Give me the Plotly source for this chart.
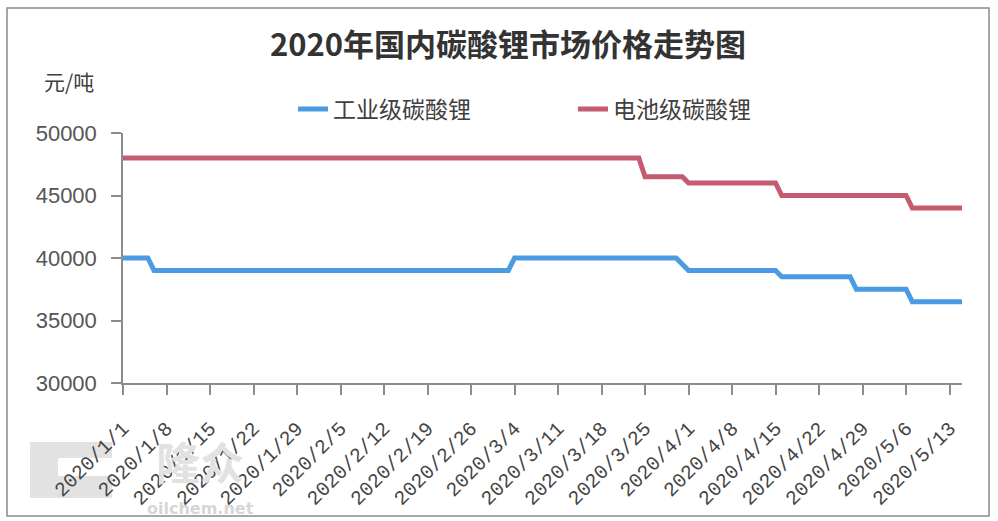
import plotly.graph_objects as go

# Price change points (yuan/ton); consecutive entries are joined by straight segments
industrial_dates = ["2020-01-01", "2020-01-05", "2020-01-06", "2020-03-03", "2020-03-04",
                    "2020-03-30", "2020-03-31", "2020-04-01", "2020-04-15", "2020-04-16",
                    "2020-04-27", "2020-04-28", "2020-05-06", "2020-05-07", "2020-05-15"]
industrial_prices = [40000, 40000, 39000, 39000, 40000,
                     40000, 39500, 39000, 39000, 38500,
                     38500, 37500, 37500, 36500, 36500]

battery_dates = ["2020-01-01", "2020-03-24", "2020-03-25", "2020-03-31", "2020-04-01",
                 "2020-04-15", "2020-04-16", "2020-05-06", "2020-05-07", "2020-05-15"]
battery_prices = [48000, 48000, 46500, 46500, 46000,
                  46000, 45000, 45000, 44000, 44000]

series_names = ["工业级碳酸锂", "电池级碳酸锂"]
series_colors = ["#4a9be3", "#c55b6f"]

tick_dates = ["2020-01-01", "2020-01-08", "2020-01-15", "2020-01-22", "2020-01-29",
              "2020-02-05", "2020-02-12", "2020-02-19", "2020-02-26", "2020-03-04",
              "2020-03-11", "2020-03-18", "2020-03-25", "2020-04-01", "2020-04-08",
              "2020-04-15", "2020-04-22", "2020-04-29", "2020-05-06", "2020-05-13"]
tick_labels = ["2020/1/1", "2020/1/8", "2020/1/15", "2020/1/22", "2020/1/29",
               "2020/2/5", "2020/2/12", "2020/2/19", "2020/2/26", "2020/3/4",
               "2020/3/11", "2020/3/18", "2020/3/25", "2020/4/1", "2020/4/8",
               "2020/4/15", "2020/4/22", "2020/4/29", "2020/5/6", "2020/5/13"]

title_text = "2020年国内碳酸锂市场价格走势图"
unit_text = "元/吨"

# plot-area geometry in pixels
W, H = 998, 521
ML, MR, MT, MB = 123, 36, 133, 138
PW, PH = W - ML - MR, H - MT - MB


def px_x(x):
    return (x - ML) / PW


def px_y(y):
    return (H - MB - y) / PH


fig = go.Figure()
for name, color, xs, ys in [
    (series_names[0], series_colors[0], industrial_dates, industrial_prices),
    (series_names[1], series_colors[1], battery_dates, battery_prices),
]:
    fig.add_trace(go.Scatter(x=xs, y=ys, mode="lines", name=name,
                             line=dict(color=color, width=5)))

axis_gray = "#8c8c8c"
fig.update_xaxes(
    type="date", range=["2020-01-01", "2020-05-15"],
    tickmode="array", tickvals=tick_dates, ticktext=tick_labels,
    tickangle=-45, ticks="outside", ticklen=10, tickcolor=axis_gray, tickwidth=1.5,
    showline=True, linecolor=axis_gray, linewidth=1.5, showgrid=False, zeroline=False,
    tickfont=dict(family="Liberation Mono", size=20, color="#454545"),
    ticklabelstandoff=14,
)
fig.update_yaxes(
    range=[30000, 50000], dtick=5000, tick0=30000, tickformat="d",
    ticks="outside", ticklen=10, tickcolor=axis_gray, tickwidth=1.5,
    showline=True, linecolor=axis_gray, linewidth=1.5, showgrid=False, zeroline=False,
    tickfont=dict(family="Liberation Sans", size=22, color="#555555"),
    ticklabelstandoff=10,
)

# faint site logo mark in the lower-left corner (drawn beneath the axes)
logo_path = ("M {a},{t} L {b},{t} L {b},{m1} L {c},{m1} L {c},{m2} L {b},{m2} "
             "L {b},{bt} L {a},{bt} Z").format(
    a=px_x(30), b=px_x(112), c=px_x(58),
    t=px_y(442), m1=px_y(458), m2=px_y(476), bt=px_y(498))

fig.update_layout(
    width=W, height=H, autosize=False,
    margin=dict(l=ML, r=MR, t=MT, b=MB),
    paper_bgcolor="white", plot_bgcolor="white",
    title=dict(text=title_text, xref="container", x=508 / W, xanchor="center",
               yref="container", y=1 - 45 / H, yanchor="middle",
               font=dict(family="Noto Sans CJK SC", size=31, color="#333333", weight="bold")),
    legend=dict(orientation="h", xref="paper", x=px_x(573), xanchor="center",
                yref="paper", y=px_y(109), yanchor="middle",
                font=dict(family="Noto Sans CJK SC", size=23, color="#404040"),
                entrywidth=235, bgcolor="rgba(0,0,0,0)"),
    showlegend=True,
    annotations=[
        dict(text=unit_text, xref="paper", yref="paper", x=px_x(69), y=px_y(81),
             xanchor="center", yanchor="middle", showarrow=False,
             font=dict(family="Noto Sans CJK SC", size=21, color="#404040")),
        dict(text="隆众", xref="paper", yref="paper", x=px_x(200), y=px_y(461),
             xanchor="center", yanchor="middle", showarrow=False,
             font=dict(family="Noto Sans CJK SC", size=44, color="#e2e2e2", weight="bold")),
        dict(text="oilchem.net", xref="paper", yref="paper", x=px_x(200), y=px_y(508),
             xanchor="center", yanchor="middle", showarrow=False,
             font=dict(family="DejaVu Sans", size=16, color="#d6d6d6", weight="bold")),
    ],
    shapes=[
        dict(type="path", xref="paper", yref="paper", path=logo_path,
             fillcolor="#e2e2e2", line=dict(width=0), layer="below"),
        dict(type="rect", xref="paper", yref="paper",
             x0=px_x(7), x1=px_x(989), y0=px_y(516), y1=px_y(8),
             line=dict(color="#8a8a8a", width=1.5), fillcolor="rgba(0,0,0,0)", layer="below"),
    ],
)

fig.write_html("out.html")
